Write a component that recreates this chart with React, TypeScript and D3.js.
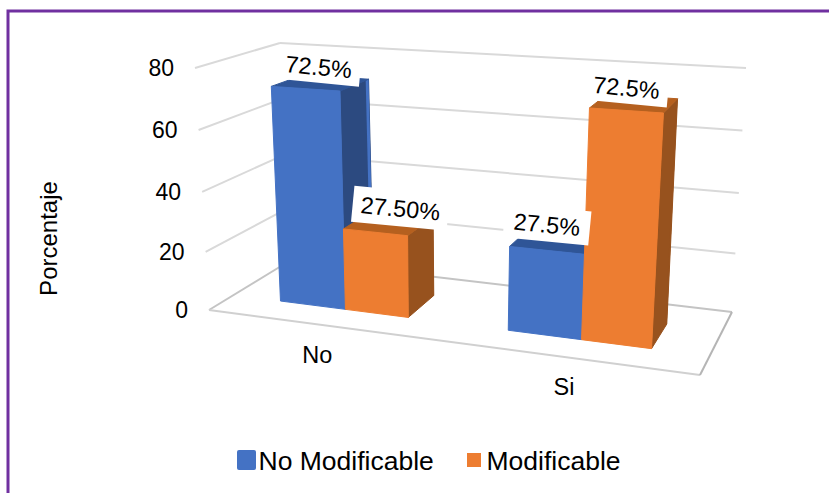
import React from 'react';
import * as d3 from 'd3';

const categories = ['No', 'Si'];
const seriesNames = ['No Modificable', 'Modificable'];
const noModificable = [72.5, 27.5];
const modificable = [27.5, 72.5];
const noModificableLabels = ['72.5%', '27.5%'];
const modificableLabels = ['27.50%', '72.5%'];
const yTicks = [0, 20, 40, 60, 80];

const WIDTH = 829;
const HEIGHT = 493;
type Pt = [number, number];

// Screen positions of the eight corners of the 3D plot box.
const box = {
  frontLeft: { bottom: [209, 310] as Pt, top: [195, 68] as Pt },
  backLeft: { bottom: [291, 260] as Pt, top: [280, 43] as Pt },
  backRight: { bottom: [732, 312] as Pt, top: [746, 68] as Pt },
  frontRight: { bottom: [700, 375] as Pt, top: [718, 102] as Pt },
};

const lerp = (a: number, b: number, t: number) => a + (b - a) * t;
const lerpPt = (a: Pt, b: Pt, t: number): Pt => [lerp(a[0], b[0], t), lerp(a[1], b[1], t)];

// Foreshortening along the height and the width of the box.
const yScale = d3.scaleLinear().domain(yTicks).range([0, 0.24, 0.488, 0.744, 1]);
const widthWarp = d3
  .scaleLinear()
  .domain([0, 0.115, 0.25, 0.385, 0.615, 0.75, 0.885, 1])
  .range([0, 0.0985, 0.235, 0.367, 0.577, 0.731, 0.878, 1]);

// u: across the categories, value: height, w: depth from front to back.
function project(u: number, value: number, w: number): Pt {
  const x = widthWarp(u);
  const y = yScale(value);
  const left = lerpPt(
    lerpPt(box.frontLeft.bottom, box.backLeft.bottom, w),
    lerpPt(box.frontLeft.top, box.backLeft.top, w),
    y,
  );
  const right = lerpPt(
    lerpPt(box.frontRight.bottom, box.backRight.bottom, w),
    lerpPt(box.frontRight.top, box.backRight.top, w),
    y,
  );
  return lerpPt(left, right, x);
}

const categoryBand = d3.scaleBand<string>().domain(categories).range([0, 1]).paddingInner(0.46).paddingOuter(0.23);
const seriesBand = d3.scaleBand<string>().domain(seriesNames).range([0, categoryBand.bandwidth()]);

const BAR_FRONT = 0.3;
const BAR_BACK = 0.7;
const poly = d3.line<Pt>().curve(d3.curveLinearClosed);

const palette = [
  { front: '#4472C4', top: '#2F5597', side: '#2C4A80', edge: '#4472C4' },
  { front: '#ED7D31', top: '#B5601F', side: '#97521E', edge: '#97521E' },
];

// Nudges of each value label relative to the top of its bar.
const labelOffset: Pt[][] = [
  [[13, -22], [0, -26]],
  [[25, -24], [0, -23]],
];
const labelBox: Pt[][] = [
  [[42, 16], [43, 17]],
  [[48, 18], [42, 16]],
];
const categoryNudge = [-7, -4];

function Bar({ cat, si, value }: { cat: string; si: number; value: number }) {
  const c = palette[si];
  const u0 = categoryBand(cat)! + seriesBand(seriesNames[si])!;
  const u1 = u0 + seriesBand.bandwidth();
  const fl0 = project(u0, 0, BAR_FRONT);
  const fr0 = project(u1, 0, BAR_FRONT);
  const fr1 = project(u1, value, BAR_FRONT);
  const fl1 = project(u0, value, BAR_FRONT);
  const bl1 = project(u0, value, BAR_BACK);
  const br1 = project(u1, value, BAR_BACK);
  const br0 = project(u1, 0, BAR_BACK);
  const strip = 0.9;
  const stripTop = project(u1, value, lerp(BAR_FRONT, BAR_BACK, strip));
  const stripBottom = project(u1, 0, lerp(BAR_FRONT, BAR_BACK, strip));
  const stroke = { strokeWidth: 1, strokeLinejoin: 'round' as const };
  return (
    <g>
      <path d={poly([fr0, fr1, br1, br0])!} fill={c.side} stroke={c.side} {...stroke} />
      <path d={poly([stripBottom, stripTop, br1, br0])!} fill={c.edge} />
      <path d={poly([fl1, fr1, br1, bl1])!} fill={c.top} stroke={c.top} {...stroke} />
      <path d={poly([fl0, fl1, fr1, fr0])!} fill={c.front} stroke={c.front} {...stroke} />
    </g>
  );
}

function BarLabel({ cat, si, value, label, ci }: { cat: string; si: number; value: number; label: string; ci: number }) {
  const u0 = categoryBand(cat)! + seriesBand(seriesNames[si])!;
  const u1 = u0 + seriesBand.bandwidth();
  const top = project((u0 + u1) / 2, value, BAR_FRONT);
  const [dx, dy] = labelOffset[si][ci];
  const [hw, hh] = labelBox[si][ci];
  return (
    <g transform={`translate(${top[0] + dx},${top[1] + dy}) rotate(5.5)`}>
      <rect x={-hw} y={-hh} width={hw * 2} height={hh * 2} fill="#fff" />
      <text textAnchor="middle" dy="0.36em" fontSize={23.5}>
        {label}
      </text>
    </g>
  );
}

export default function App() {
  const gridColor = '#D9D9D9';
  const rows = categories.flatMap((cat, ci) => [
    { cat, ci, si: 0, value: noModificable[ci], label: noModificableLabels[ci] },
    { cat, ci, si: 1, value: modificable[ci], label: modificableLabels[ci] },
  ]);
  const seg = (a: Pt, b: Pt, color: string, w = 2) => (
    <line x1={a[0]} y1={a[1]} x2={b[0]} y2={b[1]} stroke={color} strokeWidth={w} />
  );
  return (
    <svg
      width={WIDTH}
      height={HEIGHT}
      style={{ position: 'absolute', left: 0, top: 0, display: 'block', background: '#fff' }}
      fontFamily="'Liberation Sans', Arial, sans-serif"
      fill="#000"
    >
      <path d={`M${WIDTH},11H8V${HEIGHT}`} fill="none" stroke="#7030A0" strokeWidth={3} />

      {yTicks.map((t) => {
        const color = t === 0 ? '#C4C4C4' : gridColor;
        return (
          <g key={t}>
            {seg(project(0, t, 0), project(0, t, 1), color)}
            {seg(project(0, t, 1), project(1, t, 1), color)}
          </g>
        );
      })}
      {seg(project(0, 0, 0), project(1, 0, 0), '#D0D0D0')}
      {seg(project(1, 0, 0), project(1, 0, 1), '#B5B5B5')}

      {yTicks.map((t) => {
        const p = project(0, t, 0);
        return (
          <text key={t} x={p[0] - 21} y={p[1]} dy="0.36em" textAnchor="end" fontSize={23}>
            {t}
          </text>
        );
      })}

      {rows.map((r) => (
        <Bar key={`${r.cat}-${r.si}`} cat={r.cat} si={r.si} value={r.value} />
      ))}
      {rows.map((r) => (
        <BarLabel key={`${r.cat}-${r.si}`} {...r} />
      ))}

      {categories.map((cat, i) => {
        const p = project(categoryBand(cat)! + categoryBand.bandwidth() / 2, 0, 0);
        return (
          <text key={cat} x={p[0] + categoryNudge[i]} y={p[1] + 29.5} dy="0.36em" textAnchor="middle" fontSize={23.5}>
            {cat}
          </text>
        );
      })}

      <text transform="translate(48.5,238.5) rotate(-90)" textAnchor="middle" dy="0.36em" fontSize={24}>
        Porcentaje
      </text>

      <rect x={237} y={450} width={19} height={20} rx={2} fill={palette[0].front} />
      <text x={258.5} y={460} dy="0.36em" fontSize={26.5}>
        {seriesNames[0]}
      </text>
      <rect x={467} y={453} width={14} height={14} fill={palette[1].front} />
      <text x={486.5} y={460} dy="0.36em" fontSize={26.5}>
        {seriesNames[1]}
      </text>
    </svg>
  );
}
